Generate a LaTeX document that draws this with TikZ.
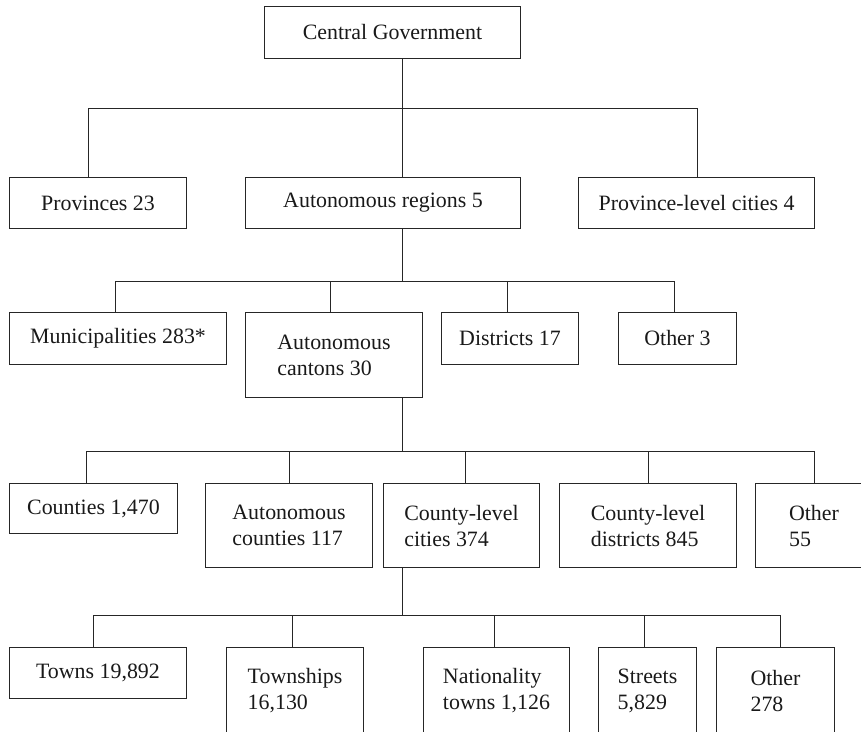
\documentclass[tikz,border=0pt]{standalone}
\usepackage{fontspec}
\setmainfont{Liberation Serif}
\usepackage{tikz}

\newcommand{\boxfont}{\fontsize{21.9pt}{26pt}\selectfont}

\tikzset{
  box/.style 2 args={draw=black!85, line width=1pt, inner sep=0pt, anchor=north west,
    align=left, minimum width=#1, minimum height=#2, font=\boxfont, text=black!90},
  link/.style={draw=black!85, line width=1pt}
}

\begin{document}
\begin{tikzpicture}[x=1pt,y=-1pt]

  \useasboundingbox (0,0) rectangle (861,731);
  \clip (0,0) rectangle (861,731);

  % LEVEL 0
  \node[box={256pt}{52pt}] (cg) at (264,6) {Central Government};

  % LEVEL 1
  \node[box={177pt}{51pt}] (prov) at (9,177) {Provinces 23};
  \node[box={275pt}{51pt}] (areg) at (245,177) {Autonomous regions 5};
  \node[box={236pt}{51pt}] (plc) at (578,177) {Province-level cities 4};

  % LEVEL 2
  \node[box={217pt}{52pt}] (muni) at (9,312) {Municipalities 283*};
  \node[box={177pt}{85pt}] (acan) at (245,312) {Autonomous\\cantons 30};
  \node[box={137pt}{52pt}] (dist) at (441,312) {Districts 17};
  \node[box={118pt}{52pt}] (oth3) at (618,312) {Other 3};

  % LEVEL 3
  \node[box={168pt}{50pt}] (cnty) at (9,483) {Counties 1,470};
  \node[box={167pt}{84pt}] (acnty) at (205,483) {Autonomous\\counties 117};
  \node[box={156pt}{84pt}] (ccity) at (383,483) {County-level\\cities 374};
  \node[box={177pt}{84pt}] (cdist) at (559,483) {County-level\\districts 845};
  \node[box={117pt}{84pt}] (oth55) at (755,483) {Other\\55};

  % LEVEL 4
  \node[box={177pt}{51pt}] (towns) at (9,647) {Towns 19,892};
  \node[box={137pt}{86pt}] (twp) at (226,647) {Townships\\16,130};
  \node[box={146pt}{86pt}] (nat) at (423,647) {Nationality\\towns 1,126};
  \node[box={98pt}{86pt}] (str) at (598,647) {Streets\\5,829};
  \node[box={118pt}{86pt}] (oth278) at (716,647) {Other\\278};

  % BUSES
  \coordinate (b1) at (402.5,108);
  \coordinate (b2) at (402.5,281);
  \coordinate (b3) at (402.5,451);
  \coordinate (b4) at (402.5,615);

  % TRUNK
  \draw[link] (cg.south -| b1) -- (b1) -- (areg.north -| b1);
  \draw[link] (areg.south -| b2) -- (b2);
  \draw[link] (acan.south -| b3) -- (b3);
  \draw[link] (ccity.south -| b4) -- (b4);

  % LEVEL 1 DROPS
  \draw[link] ([xshift=-9.5pt]prov.north) |- (b1);
  \draw[link] ([xshift=1pt]plc.north) |- (b1);

  % LEVEL 2 DROPS
  \draw[link] ([xshift=-2.5pt]muni.north) |- (b2);
  \draw[link] ([xshift=-4pt]acan.north) |- (b2);
  \draw[link] ([xshift=-3pt]dist.north) |- (b2);
  \draw[link] ([xshift=-3pt]oth3.north) |- (b2);

  % LEVEL 3 DROPS
  \draw[link] ([xshift=-7pt]cnty.north) |- (b3);
  \draw[link] (acnty.north) |- (b3);
  \draw[link] ([xshift=4pt]ccity.north) |- (b3);
  \draw[link] (cdist.north) |- (b3);
  \draw[link] (oth55.north) |- (b3);

  % LEVEL 4 DROPS
  \draw[link] ([xshift=-4.5pt]towns.north) |- (b4);
  \draw[link] ([xshift=-3pt]twp.north) |- (b4);
  \draw[link] ([xshift=-2pt]nat.north) |- (b4);
  \draw[link] ([xshift=-3pt]str.north) |- (b4);
  \draw[link] ([xshift=5pt]oth278.north) |- (b4);

\end{tikzpicture}
\end{document}
